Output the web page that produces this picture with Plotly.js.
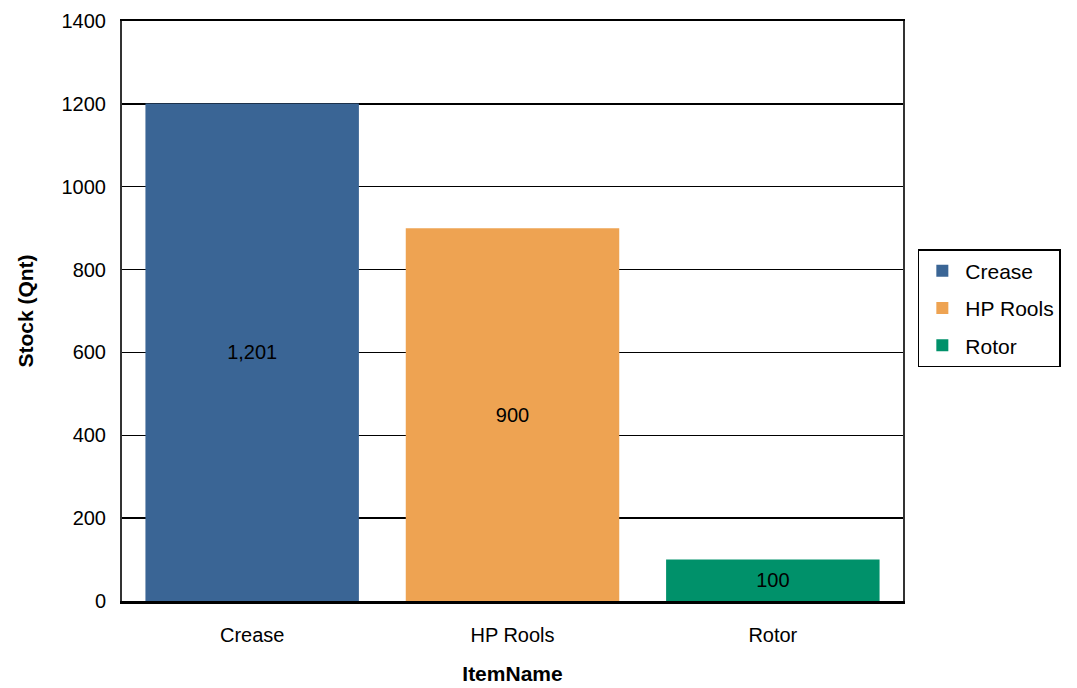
<!DOCTYPE html>
<html>
<head>
<meta charset="utf-8">
<script src="https://cdn.plot.ly/plotly-3.0.1.min.js"></script>
<style>html,body{margin:0;padding:0;background:#fff;}#chart{width:1077px;height:688px;}</style>
</head>
<body>
<div id="chart"></div>
<script>
var categories = ["Crease", "HP Rools", "Rotor"];
var stockValues = [1201, 900, 100];
var barColors = ["#3A6595", "#EEA352", "#00916A"];
var yTicks = [0, 200, 400, 600, 800, 1000, 1200, 1400];

var FONT = "Liberation Sans, Arial, sans-serif";

var traces = categories.map(function (c, i) {
  return {
    type: "bar",
    name: c,
    legendgroup: "g" + i,
    x: [c],
    y: [stockValues[i]],
    marker: { color: barColors[i] },
    texttemplate: "%{y:,}",
    textposition: "inside",
    insidetextanchor: "middle",
    textfont: { family: FONT, size: 20, color: "#000" },
    hoverinfo: "x+y"
  };
});

var layout = {
  width: 1077,
  height: 688,
  margin: { l: 122, r: 174, t: 21, b: 87 },
  paper_bgcolor: "#fff",
  plot_bgcolor: "#fff",
  barmode: "overlay",
  bargap: 0.18,
  showlegend: true,
  font: { family: FONT, size: 20, color: "#000" },
  xaxis: {
    type: "category",
    categoryorder: "array",
    categoryarray: categories,
    showline: true,
    linecolor: "#000",
    linewidth: 2.5,
    mirror: true,
    ticks: "",
    ticklabelstandoff: 14,
    tickfont: { family: FONT, size: 20, color: "#000" },
    title: { text: "<b>ItemName</b>", font: { family: FONT, size: 21, color: "#000" }, standoff: 22 }
  },
  yaxis: {
    range: [0, 1400],
    tickvals: yTicks,
    ticktext: yTicks.map(String),
    showgrid: true,
    gridcolor: "#000",
    gridwidth: 1.5,
    zeroline: false,
    showline: true,
    linecolor: "#333",
    linewidth: 2,
    mirror: true,
    ticks: "",
    ticklabelstandoff: 10,
    tickfont: { family: FONT, size: 20, color: "#000" },
    title: { text: "<b>Stock (Qnt)</b>", font: { family: FONT, size: 21, color: "#000" }, standoff: 22 }
  },
  legend: {
    x: 1.019,
    xanchor: "left",
    y: 0.505,
    yanchor: "middle",
    bordercolor: "#000",
    borderwidth: 1.5,
    bgcolor: "#fff",
    itemwidth: 36,
    font: { family: FONT, size: 21, color: "#000" },
    tracegroupgap: 7
  }
};

Plotly.newPlot("chart", traces, layout, { displayModeBar: false, staticPlot: true });
</script>
</body>
</html>
